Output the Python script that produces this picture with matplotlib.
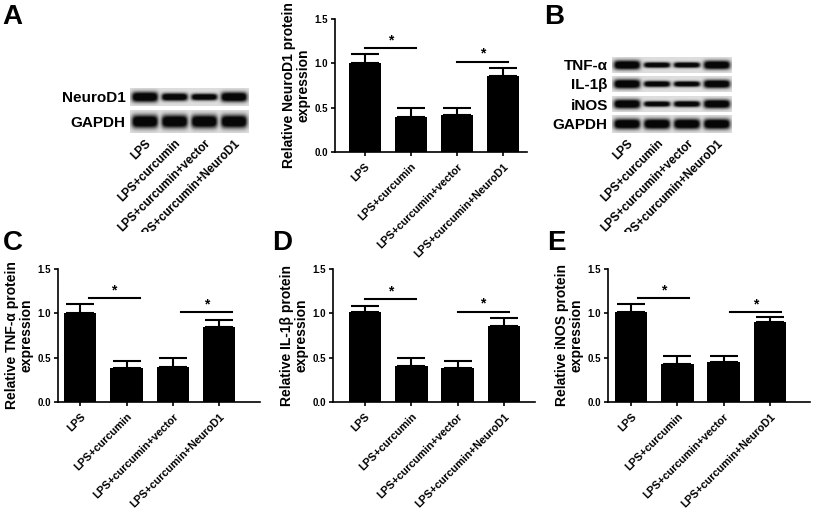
import numpy as np
import matplotlib
matplotlib.use("Agg")
import matplotlib.pyplot as plt
from matplotlib.transforms import Bbox

plt.rcParams["font.family"] = ["Liberation Sans", "DejaVu Sans"]
plt.rcParams["font.weight"] = "bold"

groups = ["LPS", "LPS+curcumin", "LPS+curcumin+vector", "LPS+curcumin+NeuroD1"]

# bar chart values (mean, upper error)
neurod1_mean = [1.00, 0.40, 0.42, 0.86]
neurod1_err = [0.10, 0.10, 0.08, 0.09]
tnf_mean = [1.00, 0.38, 0.40, 0.85]
tnf_err = [0.10, 0.08, 0.10, 0.08]
il1b_mean = [1.01, 0.41, 0.38, 0.86]
il1b_err = [0.07, 0.09, 0.08, 0.09]
inos_mean = [1.01, 0.43, 0.45, 0.90]
inos_err = [0.09, 0.09, 0.07, 0.06]

# significance bracket heights (pair 0-1, pair 2-3)
neurod1_sig = [1.17, 1.02]
tnf_sig = [1.17, 1.01]
il1b_sig = [1.16, 1.02]
inos_sig = [1.17, 1.01]

# relative band thickness on blots
blot_neurod1 = [1.0, 0.75, 0.65, 0.95]
blot_gapdh_a = [1.0, 1.0, 1.0, 1.0]
blot_tnf = [1.0, 0.6, 0.6, 0.95]
blot_il1b = [1.0, 0.65, 0.6, 0.9]
blot_inos = [1.0, 0.6, 0.65, 0.95]
blot_gapdh_b = [1.0, 1.0, 1.0, 1.0]

W, H = 813, 509
fig = plt.figure(figsize=(W / 100, H / 100), dpi=100)
# blot lane labels are cut off where the lower row of panels starts
label_clip = Bbox.from_extents(0, H - 232, W, H)


def px_axes(x0, y0, x1, y1):
    return fig.add_axes([x0 / W, 1 - y1 / H, (x1 - x0) / W, (y1 - y0) / H])


def draw_blot_row(ax, name, strengths, bottom=False, bg=0.87):
    xs = np.linspace(-0.5, 3.5, 400)
    ys = np.linspace(-1, 1, 60)
    X, Y = np.meshgrid(xs, ys)
    img = np.zeros_like(X)
    for i, s in enumerate(strengths):
        horiz = 1 / (1 + np.exp((np.abs(X - i) - 0.42) / 0.045))
        vert = np.exp(-(np.abs(Y) / (0.58 * s)) ** 2.5)
        img = np.maximum(img, horiz * vert)
    img = bg - (bg - 0.03) * np.clip(img * 1.35, 0, 1)
    ax.imshow(img, cmap="gray", vmin=0, vmax=1, extent=(-0.5, 3.5, -1, 1),
              aspect="auto", interpolation="bilinear")
    for sp in ax.spines.values():
        sp.set_visible(False)
    ax.set_yticks([0])
    ax.set_yticklabels([name], fontsize=11, fontweight="bold")
    ax.tick_params(axis="y", length=0, pad=3)
    if bottom:
        ax.set_xticks(range(len(groups)))
        ax.set_xticklabels(groups, rotation=45, ha="right",
                           rotation_mode="anchor", fontsize=8.5, fontweight="bold")
        ax.tick_params(axis="x", length=0, pad=3)
        for lbl in ax.get_xticklabels():
            lbl.set_clip_on(True)
            lbl.set_clip_box(label_clip)
    else:
        ax.set_xticks([])


def draw_bars(ax, means, errs, sig, ylabel, xlim, sig_shift):
    x = np.arange(len(groups))
    ax.bar(x, means, width=0.7, color="black",
           yerr=[np.zeros(len(errs)), errs], capsize=10,
           error_kw=dict(elinewidth=1.5, capthick=1.5, ecolor="black"))
    ax.set_xlim(*xlim)
    ax.set_ylim(0, 1.5)
    ax.set_yticks([0, 0.5, 1.0, 1.5])
    ax.set_yticklabels(["0.0", "0.5", "1.0", "1.5"], fontsize=7, fontweight="bold")
    ax.set_xticks(x)
    ax.set_xticklabels(groups, rotation=45, ha="right", rotation_mode="anchor",
                       fontsize=7.8, fontweight="bold")
    ax.tick_params(direction="out", length=3, width=1.2, pad=2)
    ax.tick_params(axis="x", pad=4)
    for side in ("top", "right"):
        ax.spines[side].set_visible(False)
    for side in ("left", "bottom"):
        ax.spines[side].set_linewidth(1.2)
    ax.set_ylabel(ylabel, fontsize=10, fontweight="bold", labelpad=3,
                  linespacing=1.05)
    for (a, b), h in zip([(0, 1), (2, 3)], sig):
        ax.plot([a + sig_shift, b + sig_shift + 0.1], [h, h], color="black",
                lw=1.5, clip_on=False)
        ax.text((a + b) / 2 + sig_shift + 0.05, h + 0.01, "*", ha="center",
                va="bottom", fontsize=10, fontweight="bold")


# panel A blot
draw_blot_row(px_axes(130, 88, 249, 106), "NeuroD1", blot_neurod1)
draw_blot_row(px_axes(130, 110, 249, 133), "GAPDH", blot_gapdh_a, bottom=True)

# panel B blot
draw_blot_row(px_axes(612, 57, 732, 73), "TNF-α", blot_tnf)
draw_blot_row(px_axes(612, 76, 732, 92), "IL-1β", blot_il1b)
draw_blot_row(px_axes(612, 96, 732, 112), "iNOS", blot_inos)
draw_blot_row(px_axes(612, 115, 732, 133), "GAPDH", blot_gapdh_b, bottom=True)

# bar charts
draw_bars(px_axes(335, 19, 527, 152), neurod1_mean, neurod1_err, neurod1_sig,
          "Relative NeuroD1 protein\nexpression", (-0.65, 3.52), 0.0)
draw_bars(px_axes(58, 269, 260, 402), tnf_mean, tnf_err, tnf_sig,
          "Relative TNF-α protein\nexpression", (-0.48, 3.88), 0.18)
draw_bars(px_axes(333, 269, 535, 402), il1b_mean, il1b_err, il1b_sig,
          "Relative IL-1β protein\nexpression", (-0.69, 3.67), 0.0)
draw_bars(px_axes(608, 269, 810, 402), inos_mean, inos_err, inos_sig,
          "Relative iNOS protein\nexpression", (-0.5, 3.87), 0.15)

for letter, x, y in [("A", 2, 4), ("B", 544, 4), ("C", 3, 230), ("D", 272, 230), ("E", 547, 230)]:
    fig.text(x / W, 1 - y / H, letter, fontsize=20, fontweight="bold", va="top", ha="left")

fig.savefig("out.png", dpi=100)
